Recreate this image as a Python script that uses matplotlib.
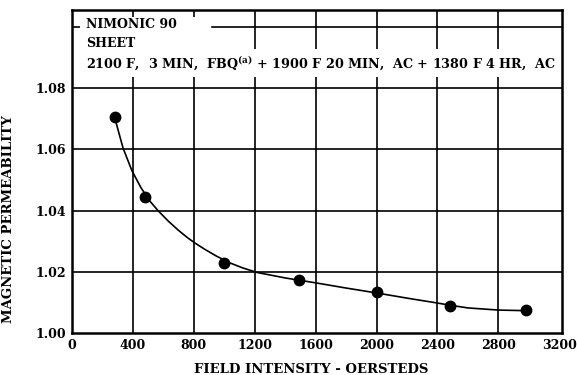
import matplotlib
matplotlib.use('Agg')
import matplotlib.pyplot as plt
import matplotlib.patches as patches

# measured points
field = [280, 480, 1000, 1490, 2000, 2480, 2980]
permeability = [1.0705, 1.0445, 1.0230, 1.0172, 1.0134, 1.0089, 1.0075]

# faired curve through the measurements
curve_field = [280, 335, 394, 453, 510, 565, 630, 696, 760, 808, 874, 950,
               1038, 1120, 1215, 1400, 1600, 1800, 2000, 2200, 2400, 2480,
               2600, 2800, 2980]
curve_perm = [1.0705, 1.0605, 1.0530, 1.0475, 1.0432, 1.0400, 1.0367, 1.0337,
              1.0311, 1.0294, 1.0273, 1.0251, 1.0229, 1.0213, 1.0198, 1.0180,
              1.0164, 1.0147, 1.0131, 1.0114, 1.0098, 1.0091, 1.0082, 1.0075,
              1.0073]

x_ticks = [0, 400, 800, 1200, 1600, 2000, 2400, 2800, 3200]
y_ticks = [1.00, 1.02, 1.04, 1.06, 1.08]
y_labels = ['1.00', '1.02', '1.04', '1.06', '1.08']

plt.rcParams['font.family'] = 'DejaVu Serif'
plt.rcParams['font.weight'] = 'bold'
plt.rcParams['axes.labelweight'] = 'bold'
plt.rcParams['mathtext.fontset'] = 'dejavuserif'
plt.rcParams['mathtext.default'] = 'bf'

fig = plt.figure(figsize=(5.77, 3.75), dpi=100)
ax = fig.add_axes([0.1248, 0.112, 0.8492, 0.8613])

ax.set_xlim(0, 3218)
ax.set_ylim(1.00, 1.1056)

ax.set_xticks(x_ticks)
ax.set_xticklabels([str(t) for t in x_ticks], fontsize=9)
ax.set_yticks(y_ticks)
ax.set_yticklabels(y_labels, fontsize=9)
ax.tick_params(length=0, pad=4)

# grid
for t in x_ticks[1:-1]:
    ax.axvline(t, color='black', lw=1.2, zorder=1)
for t in y_ticks[1:]:
    ax.axhline(t, color='black', lw=1.2, zorder=1)
ax.axhline(1.10, xmin=0.286, xmax=1, color='black', lw=1.2, zorder=1)
ax.axhline(1.10, xmin=0, xmax=0.018, color='black', lw=1.2, zorder=1)

for s in ax.spines.values():
    s.set_linewidth(1.8)

ax.plot(curve_field, curve_perm, color='black', lw=1.2, zorder=3)
ax.plot(field, permeability, 'o', color='black', markersize=7.5, zorder=4)

# blank block behind the title lines
ax.add_patch(patches.Rectangle((0.016, 0.861), 0.254, 0.117, transform=ax.transAxes,
                               facecolor='white', edgecolor='none', zorder=1.5))

ax.text(0.029, 0.954, 'NIMONIC 90', transform=ax.transAxes, fontsize=9,
        va='center', ha='left', zorder=2)
ax.text(0.029, 0.895, 'SHEET', transform=ax.transAxes, fontsize=9,
        va='center', ha='left', zorder=2)
ax.text(0.029, 0.836,
        r'2100 F,  3 MIN,  FBQ$^{(a)}$ + 1900 F 20 MIN,  AC + 1380 F 4 HR,  AC',
        transform=ax.transAxes, fontsize=9.2, va='center', ha='left', zorder=1.6,
        bbox=dict(facecolor='white', edgecolor='none', pad=4))

ax.set_xlabel('FIELD INTENSITY - OERSTEDS', fontsize=9.5)
ax.xaxis.set_label_coords(0.488, -0.093)
ax.set_ylabel('MAGNETIC PERMEABILITY', fontsize=9.5)
ax.yaxis.set_label_coords(-0.116, 0.353)

fig.savefig('out.png', dpi=100)
